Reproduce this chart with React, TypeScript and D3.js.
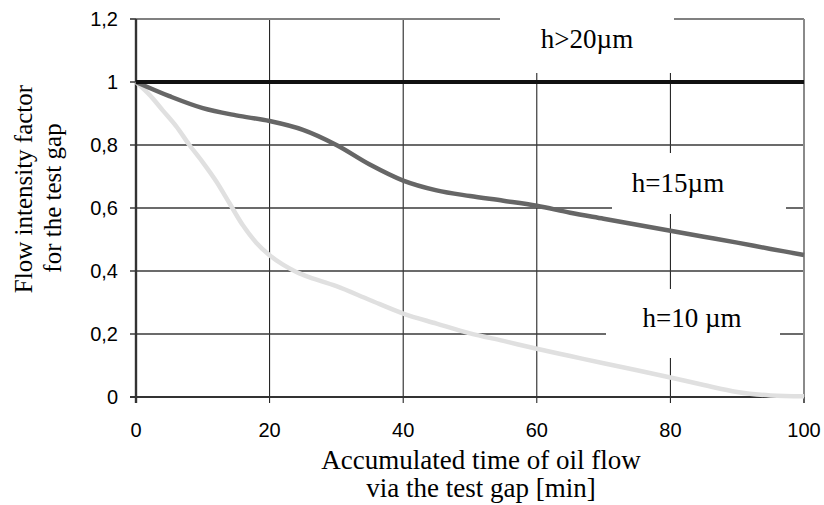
import React, { useEffect, useRef } from 'react';
import * as d3 from 'd3';

// time axis [min]
const xTicks = [0, 20, 40, 60, 80, 100];
const yTicks = [0, 0.2, 0.4, 0.6, 0.8, 1, 1.2];

// h>20um - no drop
const timeH20 = [0, 100];
const flowH20 = [1, 1];

// h=15um
const timeH15 = [0, 5, 10, 15, 20, 25, 30, 35, 40, 45, 50, 55, 60, 65, 70, 75, 80, 85, 90, 95, 100];
const flowH15 = [1, 0.955, 0.917, 0.894, 0.876, 0.848, 0.8, 0.738, 0.687, 0.656, 0.638, 0.623, 0.607, 0.585, 0.566, 0.547, 0.528, 0.509, 0.49, 0.47, 0.451];

// h=10um
const timeH10 = [0, 2, 4, 6, 8, 10, 12, 14, 16, 18, 20, 22, 24, 26, 30, 35, 40, 45, 50, 55, 60, 65, 70, 75, 80, 85, 90, 95, 100];
const flowH10 = [1, 0.96, 0.91, 0.86, 0.8, 0.745, 0.685, 0.615, 0.545, 0.49, 0.45, 0.42, 0.397, 0.38, 0.352, 0.308, 0.265, 0.233, 0.202, 0.178, 0.153, 0.13, 0.107, 0.085, 0.062, 0.038, 0.016, 0.005, 0.002];

const App = () => {
  const ref = useRef<SVGSVGElement>(null);

  useEffect(() => {
    const svg = d3.select(ref.current);
    svg.selectAll('*').remove();

    const x = d3.scaleLinear().domain([0, 100]).range([136, 804]);
    const y = d3.scaleLinear().domain([0, 1.2]).range([397, 19]);

    const fmt = (v: number) => String(v).replace('.', ',');
    const sans = 'Liberation Sans, Arial, sans-serif';
    const serif = 'Liberation Serif, Times New Roman, serif';

    // vertical grid lines (thin black)
    svg.append('g')
      .selectAll('line')
      .data(xTicks.filter(t => t > 0 && t < 100))
      .enter()
      .append('line')
      .attr('x1', d => x(d)).attr('x2', d => x(d))
      .attr('y1', y(1.2)).attr('y2', y(0) + 6)
      .attr('stroke', '#111').attr('stroke-width', 1);

    // horizontal grid lines
    svg.append('g')
      .selectAll('line')
      .data(yTicks.filter(t => t > 0 && t < 1.2))
      .enter()
      .append('line')
      .attr('x1', x(0) - 6).attr('x2', x(100))
      .attr('y1', d => y(d)).attr('y2', d => y(d))
      .attr('stroke', '#3a3a3a').attr('stroke-width', 1.6);

    // top and right border (gray)
    svg.append('line')
      .attr('x1', x(0)).attr('x2', x(100))
      .attr('y1', y(1.2)).attr('y2', y(1.2))
      .attr('stroke', '#808080').attr('stroke-width', 2);
    svg.append('line')
      .attr('x1', x(100)).attr('x2', x(100))
      .attr('y1', y(1.2)).attr('y2', y(0))
      .attr('stroke', '#8a8a8a').attr('stroke-width', 2);

    // tick marks on the end ticks
    svg.append('line')
      .attr('x1', x(0) - 6).attr('x2', x(0))
      .attr('y1', y(1.2)).attr('y2', y(1.2))
      .attr('stroke', '#333').attr('stroke-width', 1.6);
    svg.append('line')
      .attr('x1', x(100)).attr('x2', x(100))
      .attr('y1', y(0)).attr('y2', y(0) + 6)
      .attr('stroke', '#333').attr('stroke-width', 1.6);

    // label boxes hide the grid behind them
    const boxes = [
      { x0: 500, y0: 0, x1: 674, y1: 73 },
      { x0: 612, y0: 153, x1: 786, y1: 214 },
      { x0: 606, y0: 289, x1: 780, y1: 358 },
    ];
    svg.append('g')
      .selectAll('rect')
      .data(boxes)
      .enter()
      .append('rect')
      .attr('x', d => d.x0).attr('y', d => d.y0)
      .attr('width', d => d.x1 - d.x0).attr('height', d => d.y1 - d.y0)
      .attr('fill', '#fff');

    // axes lines
    svg.append('line')
      .attr('x1', x(0) - 6).attr('x2', x(100))
      .attr('y1', y(0)).attr('y2', y(0))
      .attr('stroke', '#333').attr('stroke-width', 2);
    svg.append('line')
      .attr('x1', x(0)).attr('x2', x(0))
      .attr('y1', y(1.2)).attr('y2', y(0) + 6)
      .attr('stroke', '#333').attr('stroke-width', 2.4);

    // tick labels
    svg.append('g')
      .selectAll('text')
      .data(yTicks)
      .enter()
      .append('text')
      .attr('x', 118)
      .attr('y', d => y(d) + 7)
      .attr('text-anchor', 'end')
      .attr('font-family', sans)
      .attr('font-size', 20)
      .text(d => fmt(d));

    svg.append('g')
      .selectAll('text')
      .data(xTicks)
      .enter()
      .append('text')
      .attr('x', d => x(d))
      .attr('y', 437)
      .attr('text-anchor', 'middle')
      .attr('font-family', sans)
      .attr('font-size', 20)
      .text(d => d);

    // curves
    const line = d3.line<[number, number]>()
      .x(d => x(d[0]))
      .y(d => y(d[1]))
      .curve(d3.curveCatmullRom);

    const series = [
      { t: timeH10, v: flowH10, color: '#e0e0e0', w: 4.5 },
      { t: timeH15, v: flowH15, color: '#666666', w: 4.5 },
      { t: timeH20, v: flowH20, color: '#111111', w: 4 },
    ];
    series.forEach(s => {
      svg.append('path')
        .attr('d', line(s.t.map((t, i) => [t, s.v[i]] as [number, number])))
        .attr('fill', 'none')
        .attr('stroke', s.color)
        .attr('stroke-width', s.w)
        .attr('stroke-linejoin', 'round');
    });

    // series labels
    const labels = [
      { text: 'h>20\u00b5m', cx: 587, by: 48 },
      { text: 'h=15\u00b5m', cx: 678, by: 192 },
      { text: 'h=10 \u00b5m', cx: 692, by: 327 },
    ];
    svg.append('g')
      .selectAll('text')
      .data(labels)
      .enter()
      .append('text')
      .attr('x', d => d.cx)
      .attr('y', d => d.by)
      .attr('text-anchor', 'middle')
      .attr('font-family', serif)
      .attr('font-size', 27)
      .text(d => d.text);

    // axis titles
    svg.append('text')
      .attr('x', 481).attr('y', 469)
      .attr('text-anchor', 'middle')
      .attr('font-family', serif).attr('font-size', 27)
      .text('Accumulated time of oil flow');
    svg.append('text')
      .attr('x', 481).attr('y', 497)
      .attr('text-anchor', 'middle')
      .attr('font-family', serif).attr('font-size', 27)
      .text('via the test gap [min]');

    const yt = svg.append('text')
      .attr('transform', 'rotate(-90)')
      .attr('text-anchor', 'middle')
      .attr('font-family', serif).attr('font-size', 25);
    yt.append('tspan').attr('x', -189).attr('y', 32).text('Flow intensity factor');
    yt.append('tspan').attr('x', -198).attr('y', 61).text('for the test gap');
  }, []);

  return (
    <svg
      ref={ref}
      width={824}
      height={505}
      style={{ position: 'absolute', left: 0, top: 0, background: '#fff' }}
    />
  );
};

export default App;
